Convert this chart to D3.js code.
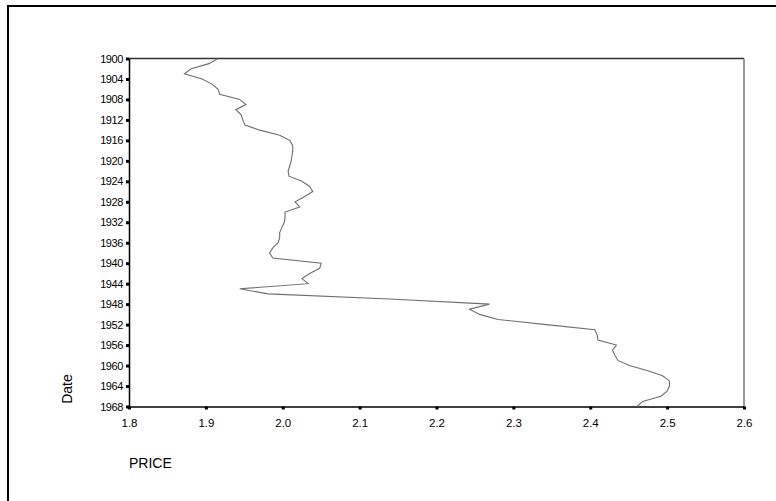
<!DOCTYPE html>
<html lang="en">
<head>
    <meta charset="UTF-8">
    <title>PRICE by Date</title>
    <script src="https://cdnjs.cloudflare.com/ajax/libs/d3/7.8.5/d3.min.js"></script>
    <style>
        body { margin: 0; background: #fff; }
        svg { display: block; font-family: Arial, "Liberation Sans", sans-serif; }
        .axis path { stroke: #000; stroke-width: 1.5px; }
        .axis line { stroke: #000; stroke-width: 3px; }
        .axis text { fill: #000; font-size: 11px; letter-spacing: -0.4px; }
        .series { fill: none; stroke: #6e6e6e; stroke-width: 1.1px; }
        .title { font-size: 14px; fill: #000; }
    </style>
</head>
<body>
    <svg id="chart" width="776" height="501"></svg>
    <script>
        // yearly values
        const years = [
            1900, 1901, 1902, 1903, 1904, 1905, 1906, 1907, 1908, 1909,
            1910, 1911, 1912, 1913, 1914, 1915, 1916, 1917, 1918, 1919,
            1920, 1921, 1922, 1923, 1924, 1925, 1926, 1927, 1928, 1929,
            1930, 1931, 1932, 1933, 1934, 1935, 1936, 1937, 1938, 1939,
            1940, 1941, 1942, 1943, 1944, 1945, 1946, 1947, 1948, 1949,
            1950, 1951, 1952, 1953, 1954, 1955, 1956, 1957, 1958, 1959,
            1960, 1961, 1962, 1963, 1964, 1965, 1966, 1967, 1968
        ];
        const price = [
            1.916, 1.904, 1.881, 1.872, 1.895, 1.908, 1.916, 1.918, 1.944, 1.952,
            1.939, 1.946, 1.948, 1.951, 1.970, 1.996, 2.009, 2.013, 2.013, 2.012,
            2.011, 2.009, 2.007, 2.008, 2.025, 2.035, 2.039, 2.028, 2.016, 2.022,
            2.003, 2.003, 2.002, 1.999, 1.996, 1.996, 1.994, 1.987, 1.983, 1.987,
            2.050, 2.048, 2.035, 2.025, 2.033, 1.944, 1.981, 2.139, 2.269, 2.243,
            2.256, 2.280, 2.343, 2.406, 2.409, 2.410, 2.434, 2.429, 2.432, 2.436,
            2.451, 2.475, 2.494, 2.503, 2.503, 2.500, 2.492, 2.468, 2.461
        ];
        const xTicks = [1.8, 1.9, 2.0, 2.1, 2.2, 2.3, 2.4, 2.5, 2.6];
        const yTicks = d3.range(1900, 1969, 4);

        const svg = d3.select("#chart");

        // outer frame, runs off the right and bottom edge
        svg.append("rect")
            .attr("x", 8).attr("y", 6)
            .attr("width", 800).attr("height", 520)
            .attr("fill", "none")
            .attr("stroke", "#000")
            .attr("stroke-width", 2);

        const x = d3.scaleLinear().domain([1.8, 2.6]).range([129, 744]);
        const y = d3.scaleLinear().domain([1900, 1968]).range([58.5, 406.5]);

        // top and right border of the plot box
        svg.append("line")
            .attr("x1", x(1.8)).attr("x2", x(2.6))
            .attr("y1", y(1900)).attr("y2", y(1900))
            .attr("stroke", "#333").attr("stroke-width", 1.5);
        svg.append("line")
            .attr("x1", x(2.6)).attr("x2", x(2.6))
            .attr("y1", y(1900)).attr("y2", y(1968))
            .attr("stroke", "#777").attr("stroke-width", 1.5);

        svg.append("g")
            .attr("class", "axis")
            .attr("transform", `translate(${x(1.8)},0)`)
            .call(d3.axisLeft(y).tickValues(yTicks).tickFormat(d3.format("d"))
                .tickSize(3).tickSizeOuter(0).tickPadding(3));

        const xAxis = svg.append("g")
            .attr("class", "axis")
            .attr("transform", `translate(0,${y(1968)})`)
            .call(d3.axisBottom(x).tickValues(xTicks).tickFormat(d3.format(".1f"))
                .tickSize(3).tickSizeOuter(0).tickPadding(9));
        xAxis.selectAll("text").style("font-size", "11.5px").style("letter-spacing", "0px");

        const line = d3.line()
            .x((d, i) => x(price[i]))
            .y(d => y(d));

        svg.append("path")
            .attr("class", "series")
            .attr("d", line(years));

        svg.append("text")
            .attr("class", "title")
            .attr("transform", "translate(72,389) rotate(-90)")
            .attr("text-anchor", "middle")
            .text("Date");

        svg.append("text")
            .attr("class", "title")
            .attr("x", 129).attr("y", 468)
            .text("PRICE");
    </script>
</body>
</html>
